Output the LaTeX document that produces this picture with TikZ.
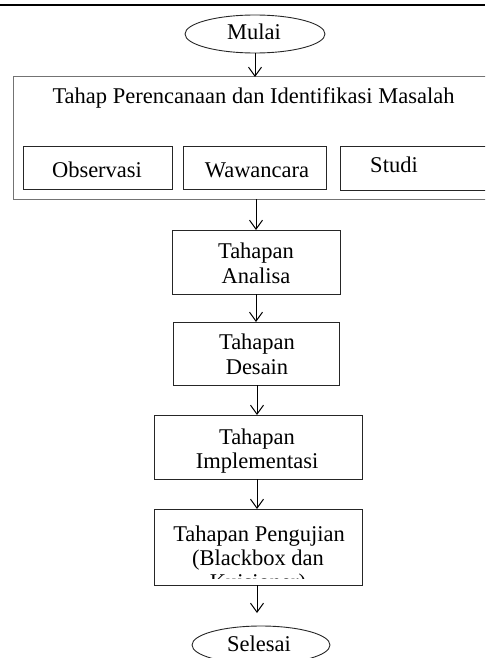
\documentclass[tikz,border=0pt]{standalone}
\usepackage{fontspec}
\setmainfont{Liberation Serif}
\usetikzlibrary{arrows.meta, shapes.geometric}

\begin{document}
\begin{tikzpicture}[x=1pt, y=-1pt,
  box/.style={draw=black!85, line width=0.9pt, inner sep=0pt, outer sep=0pt},
  frame/.style={draw=black!55, line width=1pt, inner sep=0pt, outer sep=0pt},
  oval/.style={draw=black!85, line width=0.9pt, ellipse, inner sep=0pt, outer sep=0pt},
  txt/.style={font=\fontsize{22.5}{25}\selectfont, inner sep=0pt, anchor=base},
  arr/.style={draw=black, line width=1pt, -{Straight Barb[length=9pt, width=13pt, line width=1pt]}}]

\useasboundingbox (0,0) rectangle (485,658);
\clip (0,0) rectangle (485,658);

% heavy rule across the top
\draw[line width=2.5pt] (0,5) -- (485,5);

% start terminal
\node[oval, minimum width=140pt, minimum height=38pt] (mulai) at (255,34) {};
\node[txt] (tmulai) at (254,40) {Mulai};

% planning stage with its three activities
\node[frame, minimum width=479pt, minimum height=122pt] (plan) at (252.5,138) {};
\node[txt] (tplan) at (253.5,104) {Tahap Perencanaan dan Identifikasi Masalah};
\node[box, minimum width=149pt, minimum height=43pt] (obs) at (97.5,167.5) {};
\node[txt] (tobs) at (97,177) {Observasi};
\node[box, minimum width=143pt, minimum height=43pt] (waw) at (254.5,167.5) {};
\node[txt] (twaw) at (257,177) {Wawancara};
\node[box, minimum width=152pt, minimum height=44pt] (studi) at (416,168) {};
\node[txt] (tstudi) at (394,172) {Studi};

% process stages
\node[box, minimum width=168pt, minimum height=64pt] (analisa) at (256,262) {};
\node[txt] (ta1) at (256,258) {Tahapan};
\node[txt] (ta2) at (256,283) {Analisa};

\node[box, minimum width=166pt, minimum height=63pt] (desain) at (256,353.5) {};
\node[txt] (td1) at (257,349) {Tahapan};
\node[txt] (td2) at (257,374) {Desain};

\node[box, minimum width=208pt, minimum height=64pt] (impl) at (258,447) {};
\node[txt] (ti1) at (257,444) {Tahapan};
\node[txt] (ti2) at (257,468) {Implementasi};

\node[box, minimum width=208pt, minimum height=76pt] (uji) at (258,547) {};
\node[txt] (tu1) at (259,541) {Tahapan Pengujian};
\node[txt] (tu2) at (258,565) {(Blackbox dan};
\begin{scope}
  \clip (154,570) rectangle (362,578.5);
  \node[txt] (tu3) at (258,589) {Kuisioner)};
\end{scope}

% end terminal
\node[oval, minimum width=138pt, minimum height=38pt] (selesai) at (261,645) {};
\node[txt] (tselesai) at (259,651) {Selesai};

% connectors
\coordinate (endtip) at (257,613);
\draw[arr] (mulai.south) -- (mulai.south |- plan.north);
\draw[arr] (analisa.north |- plan.south) -- (analisa.north);
\draw[arr] (analisa.south) -- (analisa.south |- desain.north);
\draw[arr] ([xshift=1pt]desain.south) -- ([xshift=1pt]desain.south |- impl.north);
\draw[arr] ([xshift=-1pt]impl.south) -- ([xshift=-1pt]impl.south |- uji.north);
\draw[arr] ([xshift=-1pt]uji.south) -- (endtip);
\end{tikzpicture}
\end{document}
